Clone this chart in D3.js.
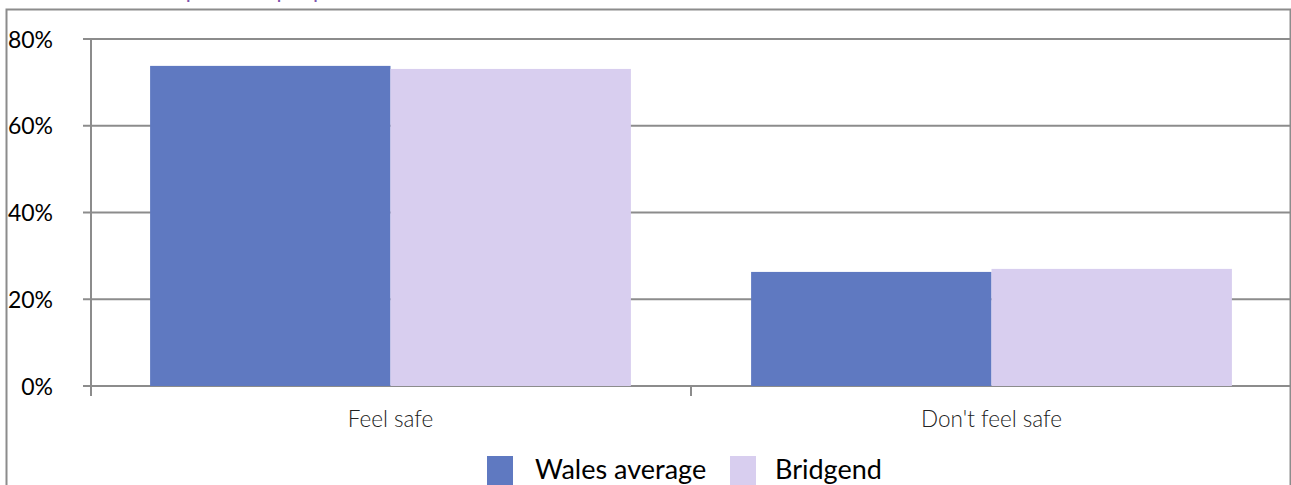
<!DOCTYPE html>
<html>
<head>
<meta charset="utf-8">
<script src="https://cdn.jsdelivr.net/npm/d3@7"></script>
<style>
  body { margin: 0; background: #fff; }
  text { font-family: Lato, "Open Sans", sans-serif; }
</style>
</head>
<body>
<script>
// feeling of safety, Wales vs Bridgend

var width = 1291;
var height = 485;

var categories = ["Feel safe", "Don't feel safe"];
var seriesNames = ["Wales average", "Bridgend"];
var walesValues = [73.8, 26.3];
var bridgendValues = [73.1, 27.0];
var yTicks = [0, 20, 40, 60, 80];
var colors = ["#5f79c1", "#d8ceef"];

var rows = categories.map(function(c, i){
  return {cat: c, values: [walesValues[i], bridgendValues[i]]};
});

var svg = d3.select("body")
    .append("svg")
    .attr("width", width)
    .attr("height", height);

// frame round the chart
svg.append("rect")
   .attr("x", 6.5).attr("y", 9.5)
   .attr("width", 1284).attr("height", 520)
   .attr("fill", "none")
   .attr("stroke", "#8c8c8c")
   .attr("stroke-width", 2);

// title mostly cut off by the top edge
svg.append("text")
   .attr("x", 132).attr("y", -2)
   .attr("fill", "#7f55ad")
   .style("font-size", "22px")
   .text("Perceptions of people");

var xScale = d3.scaleBand()
    .domain(categories)
    .range([90, 1292])
    .paddingInner(0)
    .paddingOuter(0);

var inner = d3.scaleBand()
    .domain([0, 1])
    .range([0, xScale.bandwidth()])
    .paddingOuter(0.25);

var yScale = d3.scaleLinear()
    .domain([0, 80])
    .range([386, 39]);

// gridlines
svg.append("g")
   .selectAll("line")
   .data(yTicks)
   .enter()
   .append("line")
   .attr("x1", 83)
   .attr("x2", 1290)
   .attr("y1", function(d){ return yScale(d); })
   .attr("y2", function(d){ return yScale(d); })
   .attr("stroke", "#8c8c8c")
   .attr("stroke-width", 2);

// bars
var groups = svg.selectAll("g.cat")
    .data(rows)
    .enter()
    .append("g")
    .attr("class", "cat")
    .attr("transform", function(d){ return "translate(" + xScale(d.cat) + ",0)"; });

groups.selectAll("rect")
    .data(function(d){ return d.values; })
    .enter()
    .append("rect")
    .attr("x", function(d, i){ return inner(i); })
    .attr("width", inner.bandwidth())
    .attr("y", function(d){ return yScale(d); })
    .attr("height", function(d){ return yScale(0) - yScale(d); })
    .attr("fill", function(d, i){ return colors[i]; });

// axes
var yAxis = d3.axisLeft(yScale)
    .tickValues(yTicks)
    .tickSize(0)
    .tickFormat(function(d){ return d + "%"; });

var yg = svg.append("g")
    .attr("transform", "translate(53,0)")
    .call(yAxis);
yg.select(".domain").remove();
yg.selectAll("text")
  .attr("x", 0)
  .attr("dy", "0.35em")
  .style("font-size", "23px")
  .style("font-family", "Lato, sans-serif")
  .attr("fill", "#000");

svg.append("line")
   .attr("x1", 91).attr("x2", 91)
   .attr("y1", 38).attr("y2", 396)
   .attr("stroke", "#8c8c8c")
   .attr("stroke-width", 2);

// x ticks at band boundaries
svg.append("g")
   .selectAll("line")
   .data([0, 1])
   .enter()
   .append("line")
   .attr("x1", function(d){ return xScale(categories[d]) + (d === 0 ? 1 : 0); })
   .attr("x2", function(d){ return xScale(categories[d]) + (d === 0 ? 1 : 0); })
   .attr("y1", 386)
   .attr("y2", 396)
   .attr("stroke", "#8c8c8c")
   .attr("stroke-width", 2);

svg.append("g")
   .selectAll("text")
   .data(categories)
   .enter()
   .append("text")
   .attr("x", function(d){ return xScale(d) + xScale.bandwidth() / 2; })
   .attr("y", 427)
   .attr("text-anchor", "middle")
   .attr("fill", "#222")
   .style("font-size", "22.5px")
   .style("font-weight", 300)
   .text(function(d){ return d; });

// legend
var legendX = [487, 730];
var leg = svg.selectAll("g.leg")
    .data(seriesNames)
    .enter()
    .append("g")
    .attr("class", "leg")
    .attr("transform", function(d, i){ return "translate(" + legendX[i] + ",456)"; });

leg.append("rect")
   .attr("width", 26)
   .attr("height", 30)
   .attr("fill", function(d, i){ return colors[i]; });

leg.append("text")
   .attr("x", function(d, i){ return i === 0 ? 48 : 45; })
   .attr("y", 23)
   .attr("fill", "#000")
   .style("font-size", "27px")
   .text(function(d){ return d; });
</script>
</body>
</html>
